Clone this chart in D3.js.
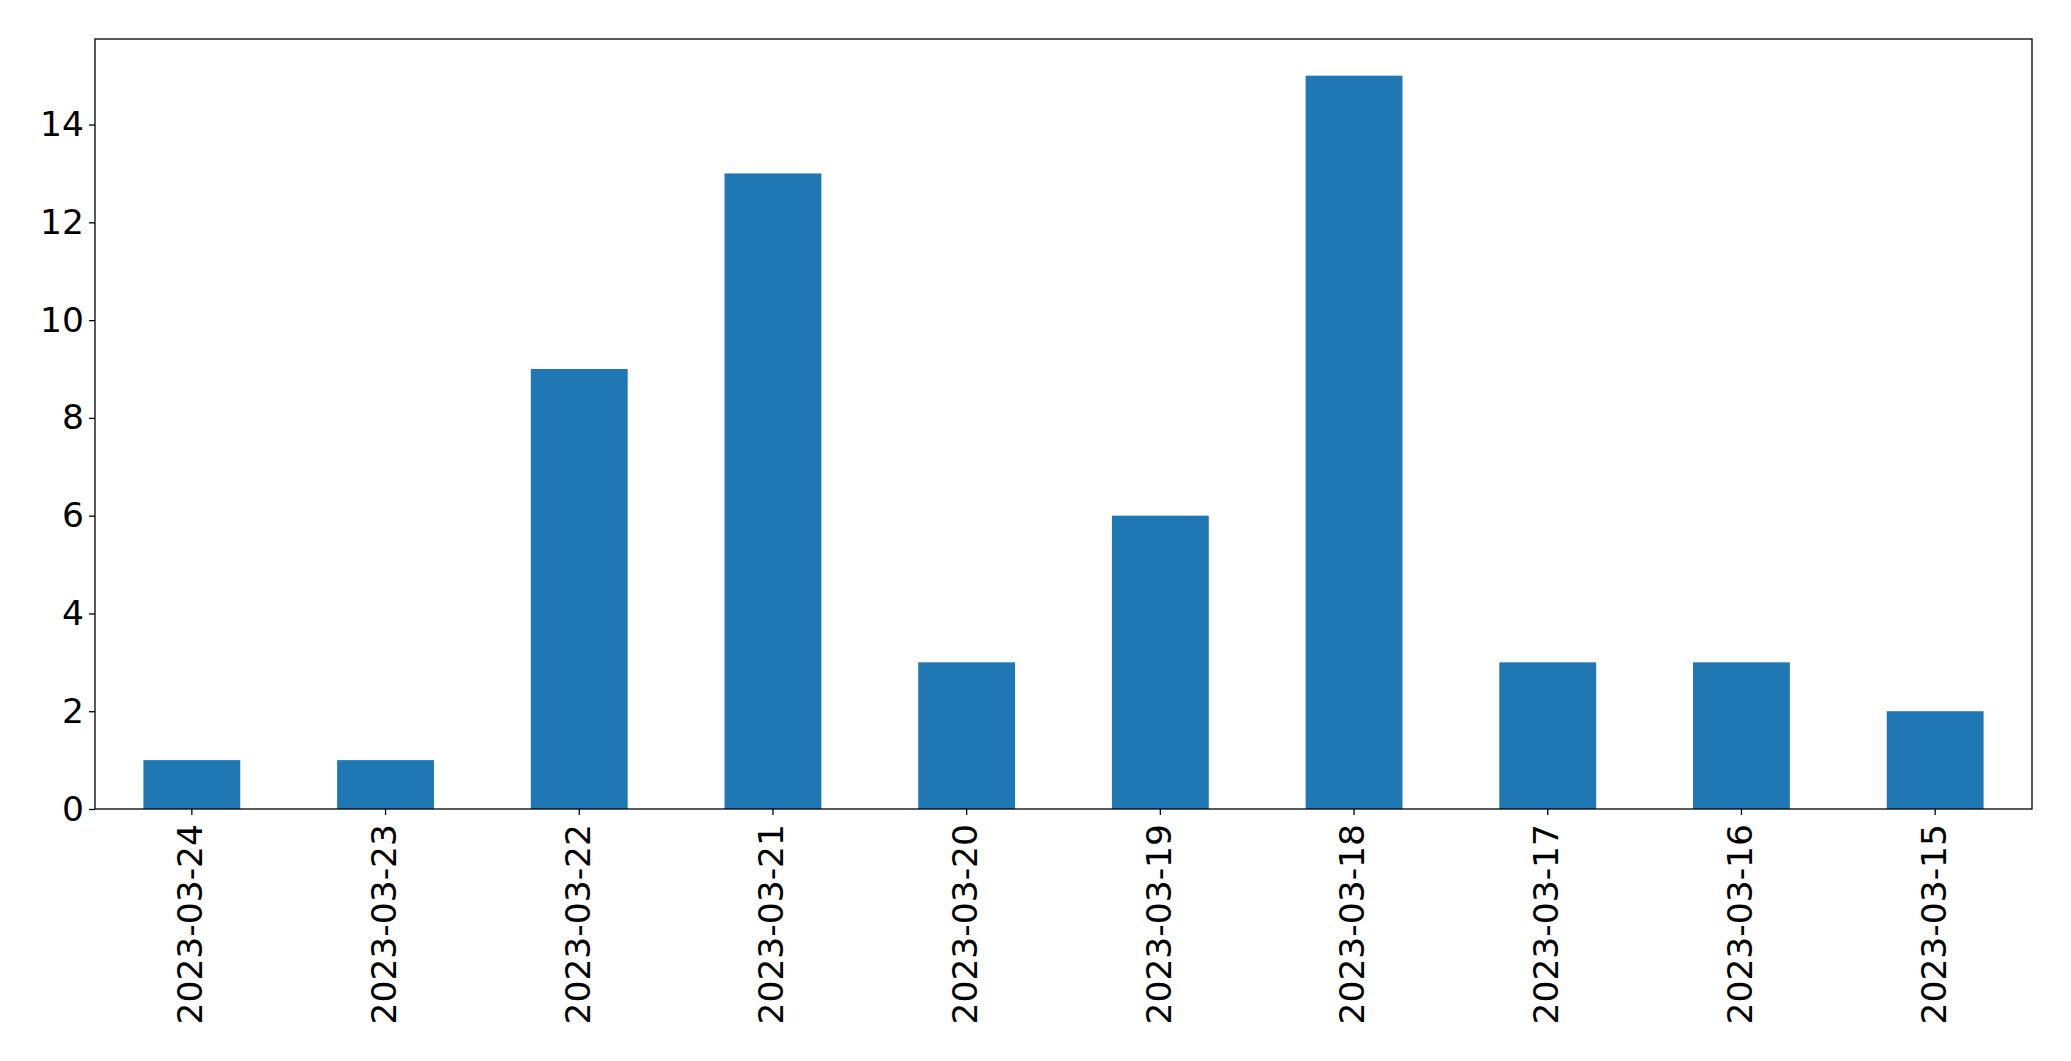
<!DOCTYPE html>
<html>
<head>
<meta charset="utf-8">
<script src="https://cdn.jsdelivr.net/npm/d3@7"></script>
<style>
html,body{margin:0;padding:0;background:#fff;}
svg{display:block;}
text{font-family:"DejaVu Sans",sans-serif;fill:#000;}
</style>
</head>
<body>
<script>
const categories = ["2023-03-24","2023-03-23","2023-03-22","2023-03-21","2023-03-20","2023-03-19","2023-03-18","2023-03-17","2023-03-16","2023-03-15"];
const values = [1,1,9,13,3,6,15,3,3,2];
const yTicks = [0,2,4,6,8,10,12,14];

const W = 2071, H = 1061;
const mLeft = 95, mRight = 2032, mTop = 39, mBottom = 809;
const fontSize = 34.5;

const svg = d3.select("body").append("svg").attr("width", W).attr("height", H);

const x = d3.scaleBand().domain(categories).range([mLeft, mRight]).paddingInner(0.5).paddingOuter(0.25);
const y = d3.scaleLinear().domain([0, d3.max(values) * 1.05]).range([mBottom, mTop]);

svg.append("g").selectAll("rect").data(values).join("rect")
  .attr("x", (d, i) => x(categories[i]))
  .attr("width", x.bandwidth())
  .attr("y", d => y(d))
  .attr("height", d => y(0) - y(d))
  .attr("fill", "#1f77b4");

const yAxis = svg.append("g").attr("transform", `translate(${mLeft},0)`)
  .call(d3.axisLeft(y).tickValues(yTicks).tickSize(6).tickPadding(5).tickFormat(d3.format("d")));
yAxis.select(".domain").remove();
yAxis.selectAll("line").attr("stroke", "#000").attr("stroke-width", 1.3);
yAxis.selectAll("text").style("font-size", fontSize + "px").style("font-family", '"DejaVu Sans",sans-serif');

const xAxis = svg.append("g").attr("transform", `translate(0,${mBottom})`)
  .call(d3.axisBottom(x).tickSize(6).tickPadding(8));
xAxis.select(".domain").remove();
xAxis.selectAll("line").attr("stroke", "#000").attr("stroke-width", 1.3);
xAxis.selectAll("text")
  .style("font-size", fontSize + "px").style("font-family", '"DejaVu Sans",sans-serif')
  .attr("transform", "rotate(-90)")
  .attr("text-anchor", "end")
  .attr("x", -15).attr("y", 0).attr("dy", "0.3em");

svg.append("rect").attr("x", mLeft).attr("y", mTop).attr("width", mRight - mLeft).attr("height", mBottom - mTop)
  .attr("fill", "none").attr("stroke", "#000").attr("stroke-width", 1.3);
</script>
</body>
</html>
